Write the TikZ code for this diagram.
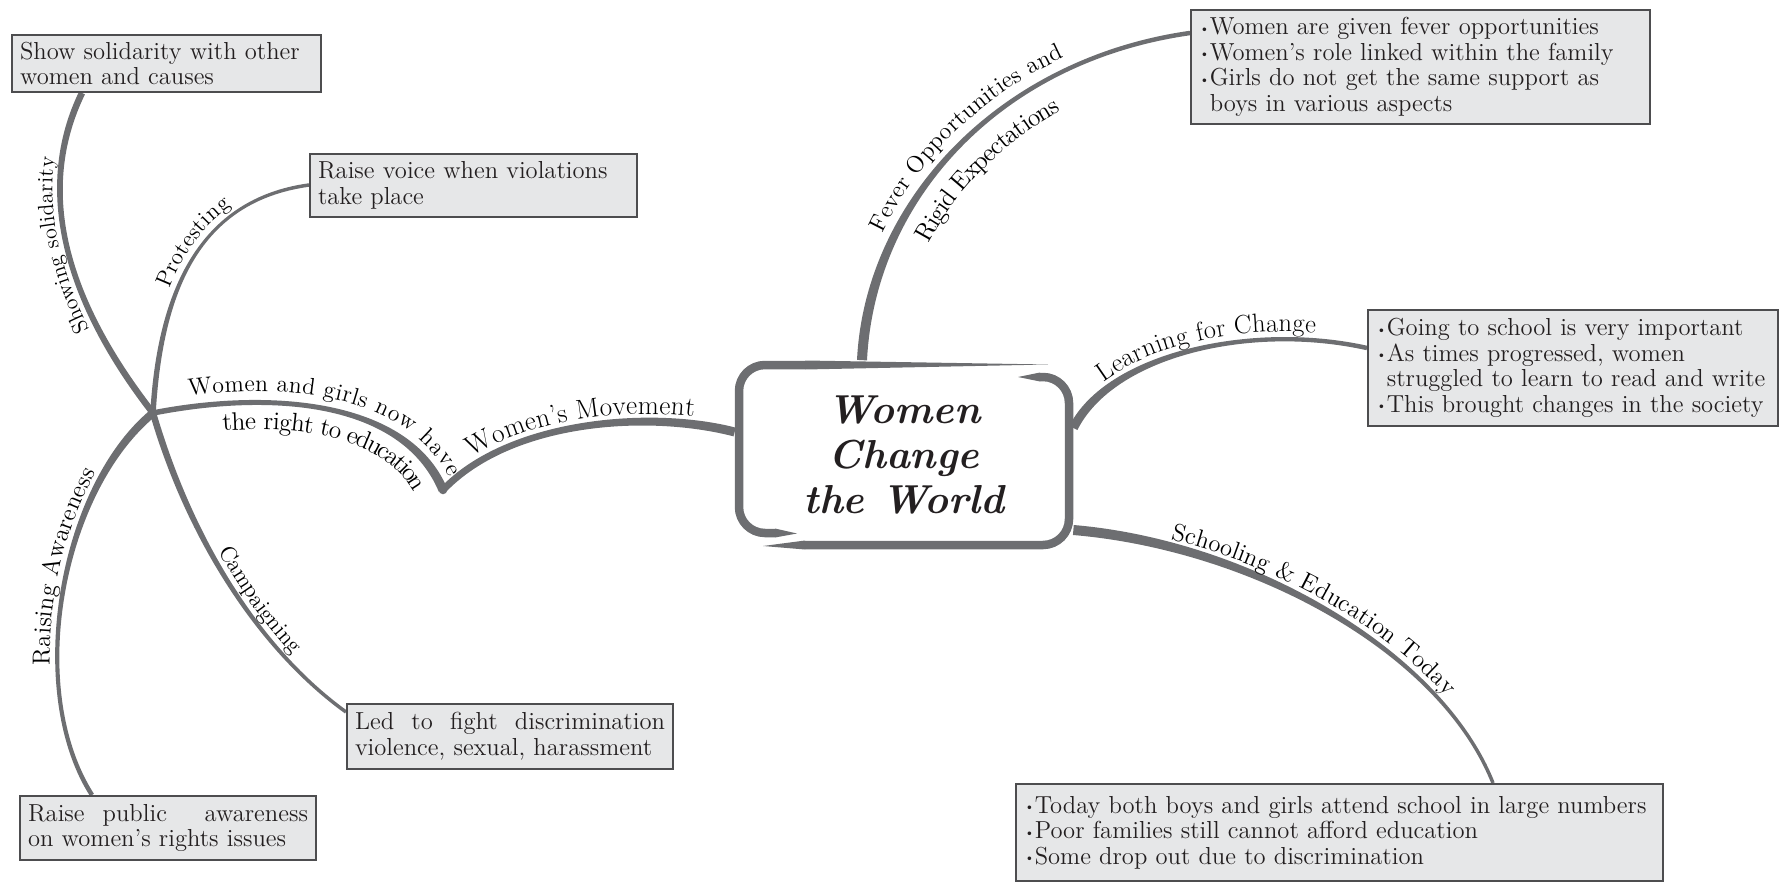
\documentclass[tikz,border=0pt]{standalone}
\usetikzlibrary{calc,backgrounds,decorations.text}
\definecolor{mapink}{HTML}{231F20}
\definecolor{mapgray}{HTML}{6D6E71}
\definecolor{boxline}{HTML}{4D4D4F}
\definecolor{boxfill}{HTML}{E6E7E8}
\newcommand{\boxfont}{\fontsize{14}{14.6}\selectfont}
\newcommand{\bul}{\raisebox{.25ex}{\scriptsize\textbullet}}
% tapered branch: start, control 1, control 2, end, half width at start, half width at end
\newcommand{\taperbranch}[6]{%
  \path ($(#1)!#5!90:(#2)$) coordinate (bl0) ($(#1)!#5!-90:(#2)$) coordinate (br0)
        ($(#4)!#6!-90:(#3)$) coordinate (bl3) ($(#4)!#6!90:(#3)$) coordinate (br3);
  \fill[mapgray] (bl0) .. controls ($(#2)+(bl0)-(#1)$) and ($(#3)+(bl3)-(#4)$) .. (bl3)
    -- (br3) .. controls ($(#3)+(br3)-(#4)$) and ($(#2)+(br0)-(#1)$) .. (br0) -- cycle;
}
\tikzset{
  infobox/.style={draw=boxline, fill=boxfill, line width=.4mm, anchor=north west,
    font=\boxfont, text=mapink, align=left, inner xsep=1.6mm, inner ysep=1mm},
  titlebox/.style={font=\fontsize{23}{25.5}\selectfont\bfseries\itshape, text=mapink,
    align=center, minimum width=67.6mm, minimum height=37.8mm},
  ringstroke/.style={draw=mapgray, line width=1.7mm, rounded corners=5.2mm},
  along/.style 2 args={decorate, decoration={text along path, text align=center,
    raise=1.5mm, text={|\fontsize{#1}{#1}\selectfont|#2}}},
  alongbelow/.style 2 args={decorate, decoration={text along path, text align=center,
    raise=-4.9mm, text={|\fontsize{#1}{#1}\selectfont|#2}}}
}

\begin{document}
\begin{tikzpicture}[x=0.2mm, y=-0.2mm]
  \useasboundingbox (0,0) rectangle (1780,883);

  % centre
  \node[titlebox] (title) at (904,455) {Women\\Change\\the World};
  \draw[ringstroke] (805,365) -- (739,365) -- (739,533) -- (775,533);
  \fill[mapgray] (805,360.5) -- (1048,364.5) -- (805,369.5) -- cycle;
  \fill[mapgray] (775,528.5) -- (797,533.5) -- (775,537.5) -- cycle;
  \draw[ringstroke] (1040,377) -- (1069,377) -- (1069,545) -- (805,545);
  \fill[mapgray] (1040,372.5) -- (1018,377) -- (1040,381.5) -- cycle;
  \fill[mapgray] (805,540.5) -- (763,546) -- (805,549.5) -- cycle;

  % boxes
  \node[infobox, minimum width=61.8mm, minimum height=11.4mm, text width=58.6mm] (solbox)
    at (11,34) {Show solidarity with other\\women and causes};
  \node[infobox, minimum width=65.4mm, minimum height=12.6mm, text width=62.2mm] (voicebox)
    at (309,153) {Raise voice when violations\\take place};
  \node[infobox, minimum width=91.8mm, minimum height=22.8mm, text width=88.6mm] (fevbox)
    at (1190,9) {\bul Women are given fever opportunities\\
      \bul Women's role linked within the family\\
      \bul Girls do not get the same support as\\
      \phantom{\bul}boys in various aspects};
  \node[infobox, minimum width=82mm, minimum height=23.2mm, text width=78.8mm] (learnbox)
    at (1367,309) {\bul Going to school is very important\\
      \bul As times progressed, women\\
      \phantom{\bul}struggled to learn to read and write\\
      \bul This brought changes in the society};
  \node[infobox, minimum width=65.2mm, minimum height=13mm, text width=62mm] (fightbox)
    at (346,703) {\hbox to 62mm{Led\hfill to\hfill fight\hfill discrimination}\\
      violence, sexual, harassment};
  \node[infobox, minimum width=59.2mm, minimum height=12.8mm, text width=56mm] (awarebox)
    at (19,795) {\hbox to 56mm{Raise\hspace{0pt plus 1fil} public\hspace{0pt plus 3fil} awareness}\\
      on women's rights issues};
  \node[infobox, minimum width=129.4mm, minimum height=19.4mm, text width=126.2mm] (schoolbox)
    at (1015,783) {\bul Today both boys and girls attend school in large numbers\\
      \bul Poor families still cannot afford education\\
      \bul Some drop out due to discrimination};

  % branch ends
  \coordinate (hub) at (153,413);
  \coordinate (vee) at (443,490);
  \coordinate (fevstart) at ($(title.north)+(-42,0)$);
  \coordinate (fevend) at ($(fevbox.north west)+(0,24)$);
  \coordinate (learnstart) at ($(title.east)+(0,-27)$);
  \coordinate (learnend) at ($(learnbox.north west)+(0,39)$);
  \coordinate (schoolstart) at ($(title.east)+(0,75)$);
  \coordinate (schoolend) at ($(schoolbox.north west)+(478,0)$);
  \coordinate (moveend) at ($(title.west)+(0,-23)$);
  \coordinate (solend) at ($(solbox.south west)+(71,0)$);
  \coordinate (voiceend) at ($(voicebox.north west)+(0,32)$);
  \coordinate (fightend) at ($(fightbox.north west)+(0,9)$);
  \coordinate (awareend) at ($(awarebox.north west)+(73,0)$);

  \begin{scope}[on background layer]
    \taperbranch{fevstart}{870,200}{1000,60}{fevend}{1.0mm}{0.45mm}
    \taperbranch{learnstart}{1110,355}{1250,322}{learnend}{0.9mm}{0.45mm}
    \taperbranch{schoolstart}{1250,545}{1440,650}{schoolend}{1.0mm}{0.35mm}
    \taperbranch{moveend}{650,410}{510,420}{vee}{0.9mm}{0.7mm}
    \taperbranch{vee}{405,400}{270,390}{hub}{0.9mm}{0.55mm}
    \taperbranch{solend}{35,190}{65,300}{hub}{0.65mm}{0.65mm}
    \taperbranch{hub}{190,540}{260,650}{fightend}{0.65mm}{0.35mm}
    \taperbranch{hub}{160,290}{200,200}{voiceend}{0.55mm}{0.35mm}
    \taperbranch{hub}{60,490}{25,690}{awareend}{0.8mm}{0.45mm}
    \fill[mapgray] (hub) circle (0.7mm) (vee) circle (0.85mm);
  \end{scope}

  % labels along the branches
  \path[along={12.5}{Showing solidarity}, decoration={text align={left indent=7mm}}]
    (hub) .. controls (65,300) and (35,190) .. (solend);
  \path[along={13}{Protesting}, decoration={text align={left indent=9mm}}]
    (hub) .. controls (160,290) and (200,200) .. (voiceend);
  \path[along={14}{Raising Awareness}, decoration={text align={left indent=11mm}}]
    (awareend) .. controls (25,690) and (60,490) .. (hub);
  \path[along={13}{Campaigning}, decoration={text align={left indent=15mm}}]
    (hub) .. controls (190,540) and (260,650) .. (fightend);
  \path[along={13.5}{Women and girls now have}, decoration={raise=2.2mm, text align={left indent=6mm}}]
    (hub) .. controls (270,390) and (405,400) .. (vee);
  \path[alongbelow={14.5}{the right to education}, decoration={raise=-5.4mm, text align={left indent=11mm}}]
    (hub) .. controls (270,390) and (405,400) .. (vee);
  \path[along={15.5}{Women's Movement}] (vee) .. controls (510,420) and (650,410) .. (moveend);
  \path[along={13.5}{Fever Opportunities and}, decoration={raise=2.4mm}]
    (fevstart) .. controls (870,200) and (1000,60) .. (fevend);
  \path[alongbelow={14.5}{Rigid Expectations}, decoration={raise=-6.8mm, text align={left, left indent=28mm}}]
    (fevstart) .. controls (870,200) and (1000,60) .. (fevend);
  \path[along={15}{Learning for Change}]
    (learnstart) .. controls (1110,355) and (1250,322) .. (learnend);
  \path[along={14}{Schooling {\&} Education Today}]
    (schoolstart) .. controls (1250,545) and (1440,650) .. (schoolend);
\end{tikzpicture}
\end{document}
